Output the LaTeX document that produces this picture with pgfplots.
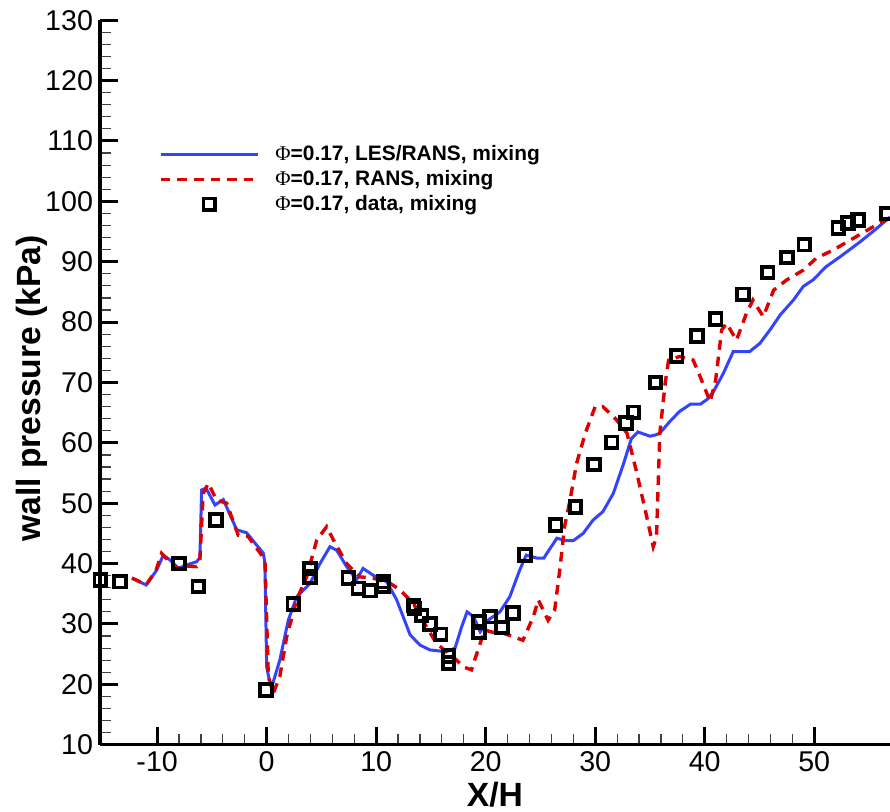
\documentclass[border=0pt]{standalone}
\usepackage{fontspec}
\setmainfont{Liberation Sans}
\newfontfamily\phifont{Liberation Serif}
\usepackage{pgfplots}
\pgfplotsset{compat=1.18}
\definecolor{lesblue}{RGB}{51,68,255}
\definecolor{ransred}{RGB}{220,0,0}
\newcommand{\Phisym}{{\mdseries\phifont Φ}}
\pgfplotsset{
  longline legend/.style={legend image code/.code={\draw[##1] (0pt,0pt) -- (48.5pt,0pt); \path (55.5pt,0pt);}},
  onemark legend/.style={legend image code/.code={\draw[##1] plot coordinates {(24.25pt,0pt)}; \path (55.5pt,0pt);}},
}

\begin{document}
\begin{tikzpicture}
\begin{axis}[
  at={(0,0)}, anchor=south west,
  scale only axis, width=395pt, height=362.25pt,
  xmin=-15.22, xmax=56.92, ymin=10, ymax=130,
  axis x line*=bottom, axis y line*=left,
  axis line style={-, line width=1.75pt},
  xtick={-10,0,...,50}, ytick={10,20,...,130},
  minor x tick num=4, minor y tick num=4,
  tick align=inside,
  major tick length=9pt, minor tick length=5.5pt,
  every major tick/.style={line width=1.5pt, black},
  every minor tick/.style={line width=0.6pt, black!75},
  tick label style={font=\fontsize{14.3}{17}\selectfont},
  /pgf/number format/assume math mode=true,
  xlabel={X/H}, ylabel={wall pressure (kPa)},
  label style={font=\bfseries\fontsize{16.8}{19}\selectfont},
  xlabel style={at={(axis description cs:0.5,-0.0683)}, anchor=center},
  ylabel style={at={(axis description cs:-0.0861,0.4917)}, anchor=center},
  clip=false,
  legend cell align=left,
  legend style={draw=none, fill=none, inner sep=0pt, outer sep=0pt,
    at={(axis description cs:0.0747,0.8295)}, anchor=north west,
    font=\bfseries\fontsize{10.45}{12}\selectfont,
    nodes={inner sep=1pt}, row sep=1.3pt},
]

% hybrid LES/RANS solution
\addplot[lesblue, line width=1.5pt, longline legend]
coordinates {
(-12.3,37.6) (-11.0,36.45) (-10.05,38.9) (-9.44,41.4) (-8.83,40.6) (-8.07,39.2)
(-7.3,39.8) (-6.4,40.3) (-6.1,41.0) (-5.94,52.2) (-5.54,52.5) (-4.72,49.7)
(-3.96,50.6) (-2.74,45.6) (-1.83,45.1) (-1.07,43.4) (-0.3,41.7) (-0.16,40.0)
(0.0,22.9) (0.3,20.2) (0.5,19.8) (1.2,24.0) (1.97,30.6) (2.74,34.5) (3.95,36.7)
(4.87,40.0) (5.78,42.8) (6.4,42.2) (7.3,39.5) (8.2,37.3) (8.8,39.2) (9.7,38.1)
(10.96,37.0) (11.87,34.0) (13.1,28.2) (14.0,26.5) (14.9,25.7) (16.4,25.4)
(17.2,26.0) (17.8,29.5) (18.3,32.0) (18.9,31.2) (19.5,28.7) (20.2,30.6)
(21.3,32.0) (22.2,34.5) (23.1,38.9) (23.7,41.4) (24.7,40.9) (25.3,40.9)
(26.5,44.2) (27.3,43.8) (28.0,43.8) (28.9,45.0) (29.8,47.2) (30.7,48.6)
(31.65,51.6) (32.6,56.6) (33.3,60.7) (33.9,61.8) (35.0,61.1) (35.5,61.3)
(35.9,61.6) (36.8,63.5) (37.7,65.2) (38.7,66.4) (39.6,66.4) (40.3,67.3)
(40.8,68.5) (41.7,71.5) (42.6,75.1) (44.1,75.1) (45.05,76.5) (45.96,78.7)
(46.9,81.2) (48.1,83.65) (49.0,85.9) (49.9,87.0) (51.1,89.2) (52.35,90.8)
(54.2,93.3) (55.7,95.5) (56.9,97.4)
};
\addlegendentry{\Phisym=0.17, LES/RANS, mixing}

% RANS solution
\addplot[ransred, line width=1.7pt, dash pattern=on 4.8pt off 3.5pt, longline legend]
coordinates {
(-12.3,37.6) (-11.0,36.5) (-10.1,38.9) (-9.6,41.7) (-8.9,40.3) (-8.1,39.2)
(-7.3,39.6) (-6.4,39.5) (-6.1,40.5) (-5.8,51.6) (-5.33,53.3) (-4.57,50.5)
(-3.65,50.0) (-2.6,44.7) (-1.7,44.5) (-0.46,41.4) (-0.15,40.0) (0.15,21.3)
(0.6,18.5) (1.2,21.3) (1.83,27.9) (2.74,34.0) (3.65,37.8) (4.57,43.9)
(5.48,46.1) (6.1,43.9) (7.3,40.0) (8.5,37.8) (9.7,37.6) (11.3,36.7)
(12.2,35.6) (13.4,33.4) (14.6,29.5) (15.5,26.8) (16.75,24.85) (17.35,24.0)
(17.95,22.9) (18.7,22.4) (19.3,25.7) (19.9,29.0) (20.7,28.6) (21.6,28.45)
(22.5,27.9) (23.4,27.3) (24.35,31.2) (24.8,34.0) (25.7,30.6) (26.3,32.3)
(26.8,39.5) (27.2,46.1) (27.7,50.5) (28.3,56.6) (29.1,61.6) (30.0,66.0)
(30.7,66.0) (31.95,63.8) (32.9,61.6) (33.8,55.0) (34.7,47.8) (35.3,42.8)
(35.6,44.4) (35.9,61.6) (36.4,70.0) (36.7,73.7) (37.7,74.3) (38.95,73.7)
(39.6,70.9) (40.5,66.8) (41.0,70.4) (41.55,78.7) (42.0,79.8) (42.9,77.0)
(43.8,81.4) (44.4,83.65) (45.35,80.9) (46.3,85.3) (47.5,87.0) (49.0,88.6)
(50.2,90.6) (51.7,91.9) (53.6,93.9) (55.4,95.8) (56.9,97.2)
};
\addlegendentry{\Phisym=0.17, RANS, mixing}

% measured wall pressure
\addplot[only marks, mark=square, mark size=2.9pt,
  mark options={black, line width=1.9pt, solid}, onemark legend]
coordinates {
(-15.2,37.3) (-13.4,37.0) (-8.0,40.0) (-6.25,36.2) (-4.63,47.2) (-0.06,19.05)
(2.43,33.3) (3.95,39.2) (3.95,37.8) (7.45,37.6) (8.37,35.9) (9.43,35.5)
(10.65,37.0) (10.65,36.3) (13.4,33.1) (13.5,32.6) (14.15,31.4) (14.9,30.0)
(15.9,28.3) (16.6,24.7) (16.6,23.5) (19.4,30.3) (19.4,28.7) (20.4,31.2)
(21.5,29.4) (22.5,31.8) (23.6,41.4) (26.4,46.4) (28.2,49.4) (29.9,56.4)
(31.5,60.1) (32.8,63.3) (33.5,65.05) (35.5,70.0) (37.45,74.4) (39.3,77.7)
(41.0,80.5) (43.5,84.6) (45.75,88.2) (47.5,90.7) (49.1,92.8) (52.2,95.6)
(53.1,96.4) (54.0,96.9) (56.6,98.0)
};
\addlegendentry{\Phisym=0.17, data, mixing}
\end{axis}
\pgfresetboundingbox
\path[use as bounding box] (-50pt,-33.15pt) rectangle (395pt,372.35pt);
\end{tikzpicture}
\end{document}
